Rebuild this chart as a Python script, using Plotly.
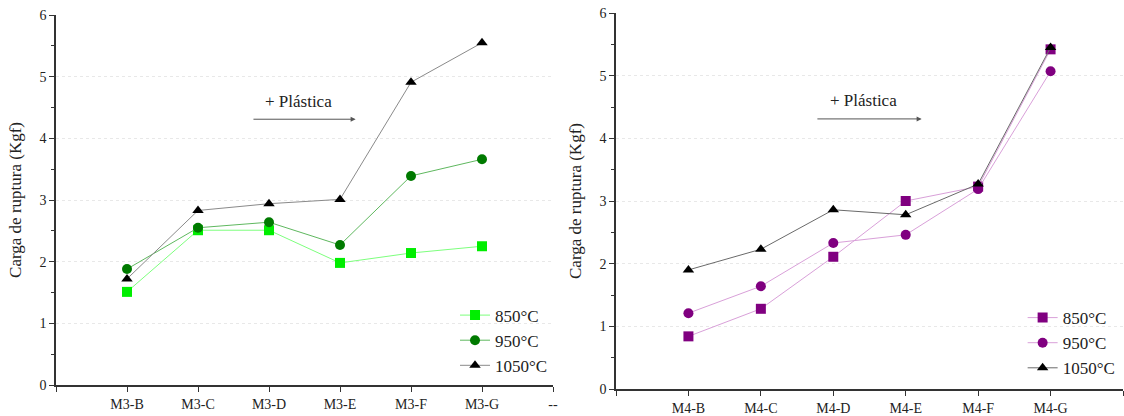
import plotly.graph_objects as go
from plotly.subplots import make_subplots

cats_left = ["M3-B", "M3-C", "M3-D", "M3-E", "M3-F", "M3-G"]
cats_right = ["M4-B", "M4-C", "M4-D", "M4-E", "M4-F", "M4-G"]
tick_left = ["", "M3-B", "M3-C", "M3-D", "M3-E", "M3-F", "M3-G", "--"]
tick_right = ["", "M4-B", "M4-C", "M4-D", "M4-E", "M4-F", "M4-G", ""]
series_names = ["850°C", "950°C", "1050°C"]

m3_850 = [1.51, 2.51, 2.51, 1.98, 2.14, 2.25]
m3_950 = [1.88, 2.55, 2.64, 2.27, 3.39, 3.66]
m3_1050 = [1.72, 2.83, 2.94, 3.01, 4.91, 5.55]

m4_850 = [0.84, 1.28, 2.11, 3.00, 3.23, 5.42]
m4_950 = [1.21, 1.64, 2.33, 2.46, 3.19, 5.07]
m4_1050 = [1.90, 2.23, 2.86, 2.78, 3.27, 5.45]

FONT = "Liberation Serif, Times New Roman, serif"

fig = make_subplots(rows=1, cols=2)

xpos = list(range(1, 7))

left_styles = [
    dict(symbol="square", mcolor="#00ee00", lcolor="#7dff7d"),
    dict(symbol="circle", mcolor="#007a00", lcolor="#5fb85f"),
    dict(symbol="triangle-up", mcolor="#000000", lcolor="#8a8a8a"),
]
right_styles = [
    dict(symbol="square", mcolor="#800080", lcolor="#d9a0d9"),
    dict(symbol="circle", mcolor="#800080", lcolor="#d9a0d9"),
    dict(symbol="triangle-up", mcolor="#000000", lcolor="#6a6a6a"),
]

for name, vals, st in zip(series_names, [m3_850, m3_950, m3_1050], left_styles):
    fig.add_trace(go.Scatter(
        x=xpos, y=vals, name=name, mode="lines+markers",
        line=dict(color=st["lcolor"], width=1),
        marker=dict(symbol=st["symbol"], color=st["mcolor"], size=10),
        legend="legend", text=cats_left, hovertemplate="%{text}: %{y}<extra></extra>",
    ), row=1, col=1)

for name, vals, st in zip(series_names, [m4_850, m4_950, m4_1050], right_styles):
    fig.add_trace(go.Scatter(
        x=xpos, y=vals, name=name, mode="lines+markers",
        line=dict(color=st["lcolor"], width=1),
        marker=dict(symbol=st["symbol"], color=st["mcolor"], size=10),
        legend="legend2", text=cats_right, hovertemplate="%{text}: %{y}<extra></extra>",
    ), row=1, col=2)

axis_common = dict(
    showline=True, linecolor="#333333", linewidth=1.5,
    ticks="outside", ticklen=5, tickcolor="#333333",
    tickfont=dict(family=FONT, size=14, color="#222222"),
    zeroline=False, automargin=False,
)

fig.update_xaxes(
    range=[0, 7], tickmode="array", tickvals=list(range(8)),
    showgrid=False, **axis_common,
)
fig.update_xaxes(ticktext=tick_left, domain=[56 / 1124, 553 / 1124], row=1, col=1)
fig.update_xaxes(ticktext=tick_right, domain=[616 / 1124, 1123 / 1124], row=1, col=2)

fig.update_yaxes(
    range=[0, 6], dtick=1, showgrid=True, gridcolor="#e8e8e8", griddash="dot", gridwidth=1,
    minor=dict(dtick=0.5, ticks="outside", ticklen=3, tickcolor="#333333", showgrid=False),
    title=dict(text="Carga de ruptura (Kgf)", font=dict(family=FONT, size=17, color="#222222"), standoff=14),
    **axis_common,
)
fig.update_yaxes(domain=[31 / 416, 401 / 416], row=1, col=1)
fig.update_yaxes(domain=[27 / 416, 403 / 416], row=1, col=2)

# annotations: "+ Plástica" with arrow
for xref, yref in [("x", "y"), ("x2", "y2")]:
    fig.add_annotation(
        x=4.22, y=4.31, ax=2.76, ay=4.31, xref=xref, yref=yref, axref=xref, ayref=yref,
        showarrow=True, arrowhead=2, arrowsize=1, arrowwidth=1, arrowcolor="#555555", text="",
    )
    fig.add_annotation(
        x=3.42, y=4.6, xref=xref, yref=yref, text="+ Plástica", showarrow=False,
        font=dict(family=FONT, size=17, color="#222222"),
    )

legend_common = dict(
    font=dict(family=FONT, size=17, color="#222222"),
    bgcolor="rgba(0,0,0,0)", tracegroupgap=0, itemwidth=30,
    xanchor="right", yanchor="bottom",
)
fig.update_layout(
    width=1124, height=416,
    margin=dict(l=0, r=0, t=0, b=0),
    font=dict(family=FONT),
    plot_bgcolor="white", paper_bgcolor="white",
    legend=dict(x=0.492, y=0.078, **legend_common),
    legend2=dict(x=0.997, y=0.072, **legend_common),
    showlegend=True,
)

fig.write_html(
    "out.html",
    config={"displayModeBar": False},
    post_script="document.body.style.margin='0px';document.body.style.overflow='hidden';",
)
